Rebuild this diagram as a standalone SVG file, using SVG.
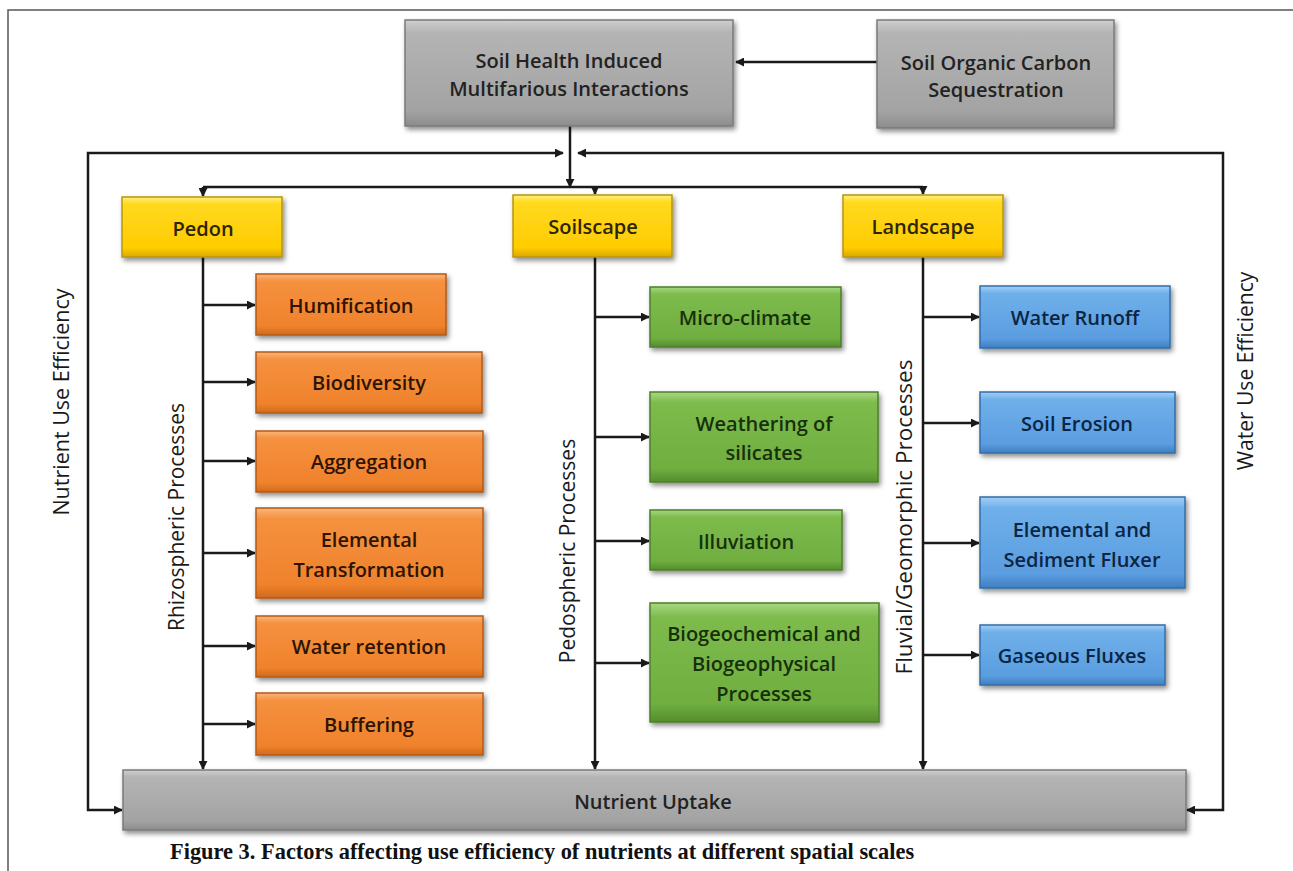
<svg xmlns="http://www.w3.org/2000/svg" width="1293" height="871" viewBox="0 0 1293 871">
<style>
.lbl{font-family:"Open Sans","Liberation Sans",sans-serif;font-size:20px;font-weight:600;text-anchor:middle;dominant-baseline:central}
.vlbl{font-family:"Open Sans","Liberation Sans",sans-serif;font-size:21px;font-weight:400;fill:#1a1a1a;text-anchor:middle;dominant-baseline:central}
.conn{fill:none;stroke:#1a1a1a;stroke-width:2.5}
.gray rect{fill:url(#gGray);stroke:#7a7a7a;stroke-width:1.5;filter:url(#sh)}
.gray text{fill:#222}
.yel rect{fill:url(#gYel);stroke:#b8960a;stroke-width:1.5;filter:url(#sh)}
.yel text{fill:#2e2400}
.org rect{fill:url(#gOrg);stroke:#b35a18;stroke-width:1.5;filter:url(#sh)}
.org text{fill:#2e1403}
.grn rect{fill:url(#gGrn);stroke:#4c7f2a;stroke-width:1.5;filter:url(#sh)}
.grn text{fill:#17300a}
.blu rect{fill:url(#gBlu);stroke:#336ea8;stroke-width:1.5;filter:url(#sh)}
.blu text{fill:#0b2544}
.cap{font-family:"Liberation Serif",serif;font-size:22.4px;font-weight:700;fill:#111}
</style>
<defs>
<linearGradient id="gGray" x1="0" y1="0" x2="0" y2="1"><stop offset="0" stop-color="#cfcfcf"/><stop offset="0.12" stop-color="#b4b4b4"/><stop offset="0.85" stop-color="#a3a3a3"/><stop offset="1" stop-color="#8c8c8c"/></linearGradient>
<linearGradient id="gYel" x1="0" y1="0" x2="0" y2="1"><stop offset="0" stop-color="#fff07a"/><stop offset="0.12" stop-color="#ffd91f"/><stop offset="0.85" stop-color="#ffcc00"/><stop offset="1" stop-color="#d9a800"/></linearGradient>
<linearGradient id="gOrg" x1="0" y1="0" x2="0" y2="1"><stop offset="0" stop-color="#fbb57a"/><stop offset="0.12" stop-color="#f5913f"/><stop offset="0.85" stop-color="#f0822c"/><stop offset="1" stop-color="#cf6a1c"/></linearGradient>
<linearGradient id="gGrn" x1="0" y1="0" x2="0" y2="1"><stop offset="0" stop-color="#a8d882"/><stop offset="0.12" stop-color="#7dbb4c"/><stop offset="0.85" stop-color="#6fae40"/><stop offset="1" stop-color="#558d2e"/></linearGradient>
<linearGradient id="gBlu" x1="0" y1="0" x2="0" y2="1"><stop offset="0" stop-color="#a3d0f7"/><stop offset="0.12" stop-color="#6fb0ea"/><stop offset="0.85" stop-color="#5a9de0"/><stop offset="1" stop-color="#3f7fc0"/></linearGradient>
<filter id="sh" x="-10%" y="-10%" width="125%" height="135%"><feDropShadow dx="2" dy="3" stdDeviation="2.5" flood-color="#000" flood-opacity="0.45"/></filter>
<marker id="arr" viewBox="0 0 10 10" refX="9" refY="5" markerWidth="9" markerHeight="9" markerUnits="userSpaceOnUse" orient="auto-start-reverse"><path d="M0,0 L10,5 L0,10 z" fill="#1a1a1a"/></marker>
</defs>
<rect width="1293" height="871" fill="#fff"/>
<path d="M8 871 L8 10 L1293 10" fill="none" stroke="#555" stroke-width="1.5"/>

<g id="connectors">
<path class="conn" d="M877 62 L736 62" marker-end="url(#arr)"/>
<path class="conn" d="M570 126 L570 187" marker-end="url(#arr)"/>
<path class="conn" d="M563 153 L88 153 L88 810 L122 810" marker-start="url(#arr)" marker-end="url(#arr)"/>
<path class="conn" d="M578 153 L1223 153 L1223 810 L1187 810" marker-start="url(#arr)" marker-end="url(#arr)"/>
<path class="conn" d="M203 187 L923 187"/>
<path class="conn" d="M203 187 L203 196" marker-end="url(#arr)"/>
<path class="conn" d="M595 187 L595 194" marker-end="url(#arr)"/>
<path class="conn" d="M923 187 L923 194" marker-end="url(#arr)"/>
<path class="conn" d="M203 257 L203 769" marker-end="url(#arr)"/>
<path class="conn" d="M595 257 L595 769" marker-end="url(#arr)"/>
<path class="conn" d="M923 257 L923 769" marker-end="url(#arr)"/>
<path class="conn" d="M203 305 L255 305" marker-end="url(#arr)"/>
<path class="conn" d="M203 382 L255 382" marker-end="url(#arr)"/>
<path class="conn" d="M203 461 L255 461" marker-end="url(#arr)"/>
<path class="conn" d="M203 553 L255 553" marker-end="url(#arr)"/>
<path class="conn" d="M203 646 L255 646" marker-end="url(#arr)"/>
<path class="conn" d="M203 724 L255 724" marker-end="url(#arr)"/>
<path class="conn" d="M595 317 L649 317" marker-end="url(#arr)"/>
<path class="conn" d="M595 437 L649 437" marker-end="url(#arr)"/>
<path class="conn" d="M595 541 L649 541" marker-end="url(#arr)"/>
<path class="conn" d="M595 663 L649 663" marker-end="url(#arr)"/>
<path class="conn" d="M923 317 L979 317" marker-end="url(#arr)"/>
<path class="conn" d="M923 423 L979 423" marker-end="url(#arr)"/>
<path class="conn" d="M923 543 L979 543" marker-end="url(#arr)"/>
<path class="conn" d="M923 655 L979 655" marker-end="url(#arr)"/>
</g>

<g id="soil-health" class="gray"><rect x="405" y="20" width="328" height="106"/><text class="lbl" x="569" y="60">Soil Health Induced</text><text class="lbl" x="569" y="88">Multifarious Interactions</text></g>
<g id="soc" class="gray"><rect x="877" y="20" width="237" height="108"/><text class="lbl" x="996" y="62">Soil Organic Carbon</text><text class="lbl" x="996" y="89">Sequestration</text></g>

<g id="pedon" class="yel"><rect x="122" y="197" width="160" height="60"/><text class="lbl" x="203" y="228">Pedon</text></g>
<g id="soilscape" class="yel"><rect x="513" y="195" width="159" height="62"/><text class="lbl" x="593" y="226">Soilscape</text></g>
<g id="landscape" class="yel"><rect x="843" y="195" width="160" height="62"/><text class="lbl" x="923" y="226">Landscape</text></g>

<g id="humification" class="org"><rect x="256" y="274" width="190" height="61"/><text class="lbl" x="351" y="305">Humification</text></g>
<g id="biodiversity" class="org"><rect x="256" y="352" width="226" height="61"/><text class="lbl" x="369" y="382">Biodiversity</text></g>
<g id="aggregation" class="org"><rect x="256" y="431" width="227" height="61"/><text class="lbl" x="369" y="461">Aggregation</text></g>
<g id="elemental-transformation" class="org"><rect x="256" y="508" width="227" height="90"/><text class="lbl" x="369" y="539">Elemental</text><text class="lbl" x="369" y="569">Transformation</text></g>
<g id="water-retention" class="org"><rect x="256" y="616" width="227" height="61"/><text class="lbl" x="369" y="646">Water retention</text></g>
<g id="buffering" class="org"><rect x="256" y="693" width="227" height="62"/><text class="lbl" x="369" y="724">Buffering</text></g>

<g id="micro-climate" class="grn"><rect x="650" y="287" width="191" height="60"/><text class="lbl" x="745" y="317">Micro-climate</text></g>
<g id="weathering" class="grn"><rect x="650" y="392" width="228" height="90"/><text class="lbl" x="764" y="423">Weathering of</text><text class="lbl" x="764" y="452">silicates</text></g>
<g id="illuviation" class="grn"><rect x="650" y="510" width="192" height="60"/><text class="lbl" x="746" y="541">Illuviation</text></g>
<g id="biogeo" class="grn"><rect x="650" y="603" width="229" height="119"/><text class="lbl" x="764" y="633">Biogeochemical and</text><text class="lbl" x="764" y="663">Biogeophysical</text><text class="lbl" x="764" y="693">Processes</text></g>

<g id="water-runoff" class="blu"><rect x="980" y="286" width="190" height="62"/><text class="lbl" x="1075" y="317">Water Runoff</text></g>
<g id="soil-erosion" class="blu"><rect x="980" y="392" width="195" height="61"/><text class="lbl" x="1077" y="423">Soil Erosion</text></g>
<g id="sediment-flux" class="blu"><rect x="980" y="497" width="205" height="91"/><text class="lbl" x="1082" y="529">Elemental and</text><text class="lbl" x="1082" y="559">Sediment Fluxer</text></g>
<g id="gaseous" class="blu"><rect x="980" y="625" width="185" height="60"/><text class="lbl" x="1072" y="655">Gaseous Fluxes</text></g>

<g id="nutrient-uptake" class="gray"><rect x="123" y="770" width="1063" height="60"/><text class="lbl" x="653" y="801">Nutrient Uptake</text></g>

<g id="side-labels">
<text class="vlbl" transform="translate(60 402) rotate(-90)" style="font-size:21.5px">Nutrient Use Efficiency</text>
<text class="vlbl" transform="translate(176 517) rotate(-90)">Rhizospheric Processes</text>
<text class="vlbl" transform="translate(567 551) rotate(-90)">Pedospheric Processes</text>
<text class="vlbl" transform="translate(903 517) rotate(-90)" style="font-size:22.5px">Fluvial/Geomorphic Processes</text>
<text class="vlbl" transform="translate(1245 371) rotate(-90)">Water Use Efficiency</text>
</g>

<text class="cap" x="170" y="859">Figure 3. Factors affecting use efficiency of nutrients at different spatial scales</text>
</svg>
